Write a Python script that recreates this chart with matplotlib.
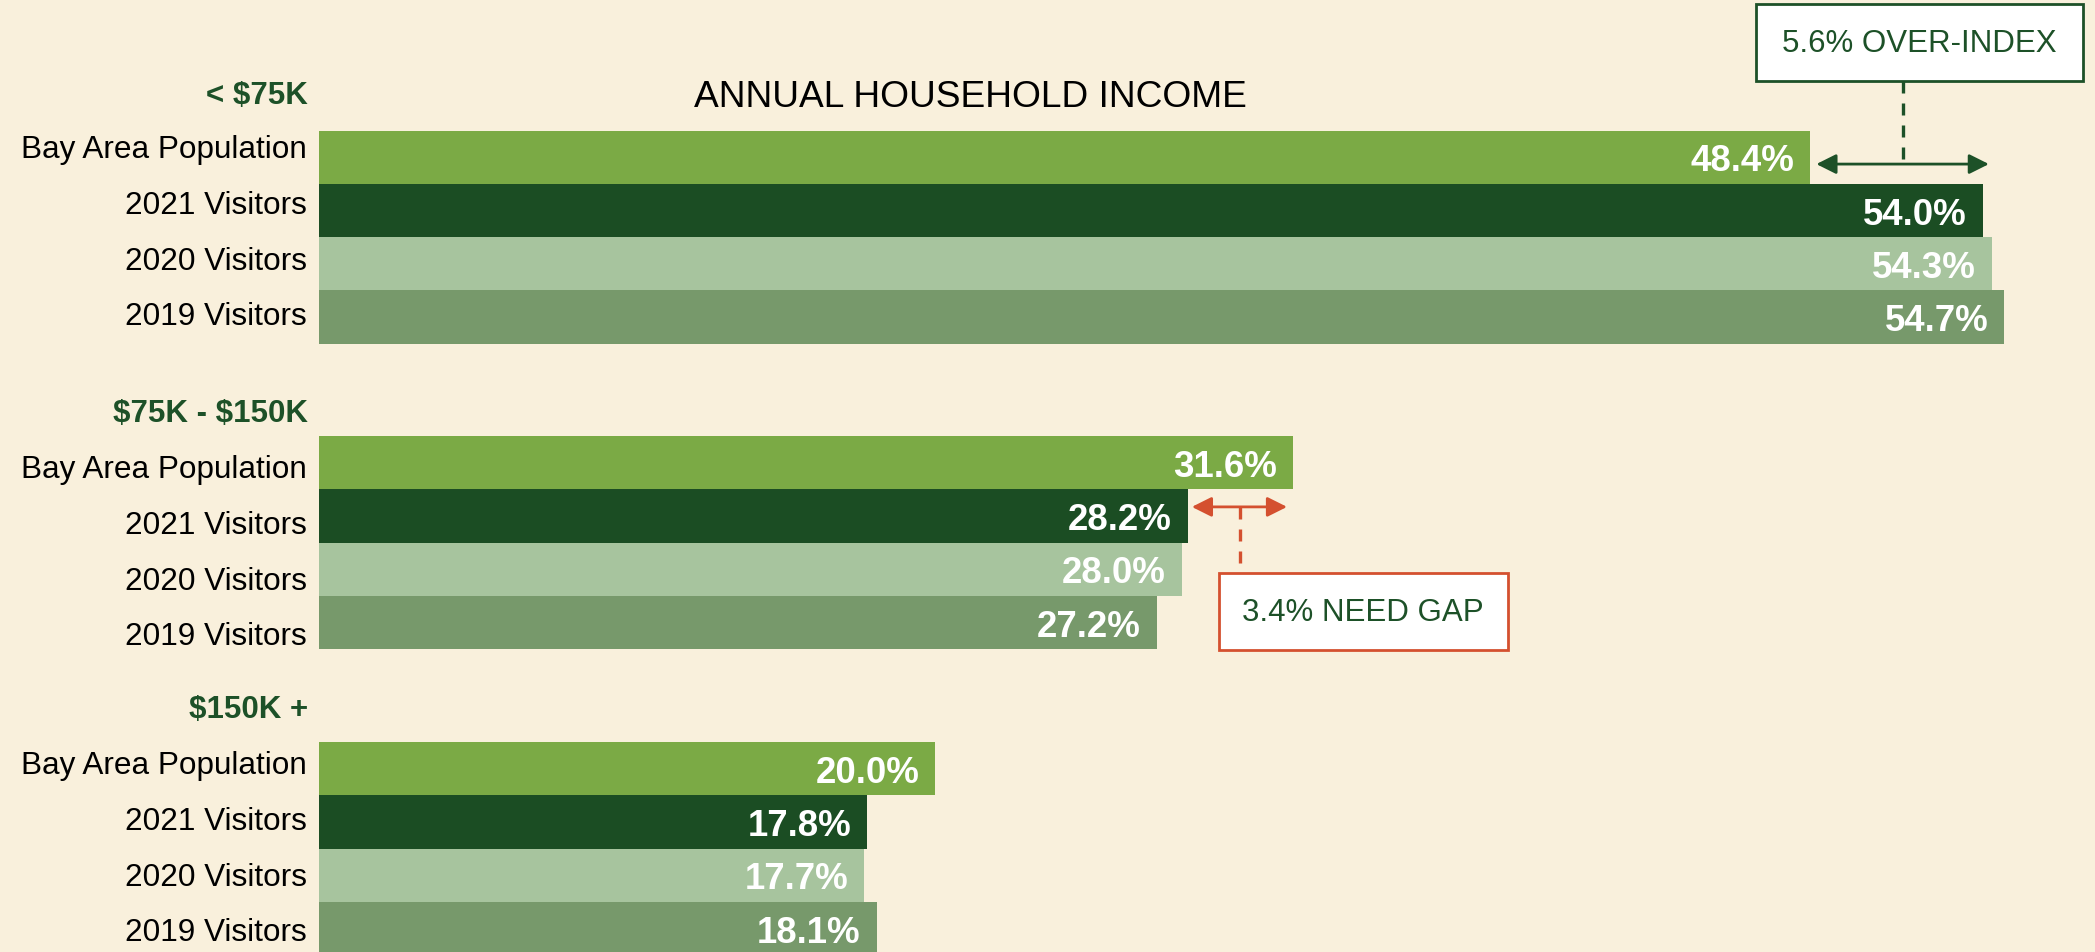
import numpy as np
import matplotlib.pyplot as plt
from matplotlib.patches import Rectangle

plt.rcParams['font.family'] = ['Liberation Sans', 'DejaVu Sans']

# data
groups = ['< $75K', '$75K - $150K', '$150K +']
series = ['Bay Area Population', '2021 Visitors', '2020 Visitors', '2019 Visitors']
bay_area = [48.4, 31.6, 20.0]
visitors_2021 = [54.0, 28.2, 17.8]
visitors_2020 = [54.3, 28.0, 17.7]
visitors_2019 = [54.7, 27.2, 18.1]
values = [bay_area, visitors_2021, visitors_2020, visitors_2019]
title = 'ANNUAL HOUSEHOLD INCOME'

colors = ['#7BAA45', '#1B4D23', '#A7C49E', '#77996B']
bg = '#F9F0DC'
dk = '#1D5128'
red = '#D4502F'

# layout (pixels of the 2095x953 canvas, x in percent)
W, H = 2095, 953
PX = 30.81          # pixels per percent
X0 = 319            # pixel of 0 %
group_top = np.array([131.5, 437, 743])
bar_h = 53.3
label_first = np.array([147, 467, 763])
label_pitch = 55.7
heading_y = np.array([92.5, 411, 707])

pt = 100 / 72.0
cap = 0.716

fig = plt.figure(figsize=(W / 100, H / 100), dpi=100, facecolor=bg)
ax = fig.add_axes([0, 0, 1, 1])
ax.set_facecolor(bg)
ax.set_xlim(-X0 / PX, (W - X0) / PX)
ax.set_ylim(H, 0)
ax.axis('off')

for i, (name, vals) in enumerate(zip(series, values)):
    yc = group_top + bar_h * (i + 0.5)
    ax.barh(yc, vals, height=bar_h, left=0, color=colors[i], edgecolor='none')
    for v, y in zip(vals, yc):
        ax.annotate(f'{v:.1f}%', xy=(v, y), xytext=(-11.5, -cap * 26.4 / 2),
                    textcoords='offset points', ha='right', va='baseline',
                    color='white', fontsize=26.4, fontweight='bold')
    for g in range(len(groups)):
        yl = label_first[g] + i * label_pitch + cap * 22.7 * pt / 2
        ax.text(-12 / PX, yl, name, ha='right', va='baseline', fontsize=22.7,
                color='black')

for g, name in enumerate(groups):
    ax.text(-11 / PX, heading_y[g] + cap * 22.5 * pt / 2, name, ha='right',
            va='baseline', fontsize=22.5, fontweight='bold', color=dk,
            parse_math=False)

ax.text((970 - X0) / PX, 106.7, title, ha='center', va='baseline',
        fontsize=26.7, color='black')

# over-index callout
y1 = group_top[0] + bar_h * 0.63
ax.annotate('', xy=(visitors_2021[0] + 0.2, y1), xytext=(bay_area[0] + 0.2, y1),
            arrowprops=dict(arrowstyle='<|-|>', color=dk, lw=2.0,
                            mutation_scale=30, shrinkA=0, shrinkB=0))
mid1 = (bay_area[0] + visitors_2021[0]) / 2 + 0.2
ax.plot([mid1, mid1], [82, y1], color=dk, lw=2.4, ls=(0, (3.6, 3)))
ax.add_patch(Rectangle(((1756 - X0) / PX, 5), 327 / PX, 77, facecolor='white',
                       edgecolor=dk, lw=2.0, zorder=3))
ax.text((1919 - X0) / PX, 44, '5.6% OVER-INDEX', ha='center', va='center',
        fontsize=22.5, color=dk, zorder=4)

# need-gap callout
y2 = group_top[1] + bar_h * 1.33
ax.annotate('', xy=(bay_area[1] - 0.18, y2), xytext=(visitors_2021[1] + 0.13, y2),
            arrowprops=dict(arrowstyle='<|-|>', color=red, lw=2.0,
                            mutation_scale=30, shrinkA=0, shrinkB=0))
mid2 = (bay_area[1] + visitors_2021[1]) / 2
ax.plot([mid2, mid2], [y2, 574], color=red, lw=2.4, ls=(0, (3.6, 3)))
ax.add_patch(Rectangle(((1219 - X0) / PX, 574), 289 / PX, 77, facecolor='white',
                       edgecolor=red, lw=2.0, zorder=3))
ax.text((1363 - X0) / PX, 613, '3.4% NEED GAP', ha='center', va='center',
        fontsize=22.5, color=dk, zorder=4)

fig.savefig('out.png', dpi=100, facecolor=bg)
